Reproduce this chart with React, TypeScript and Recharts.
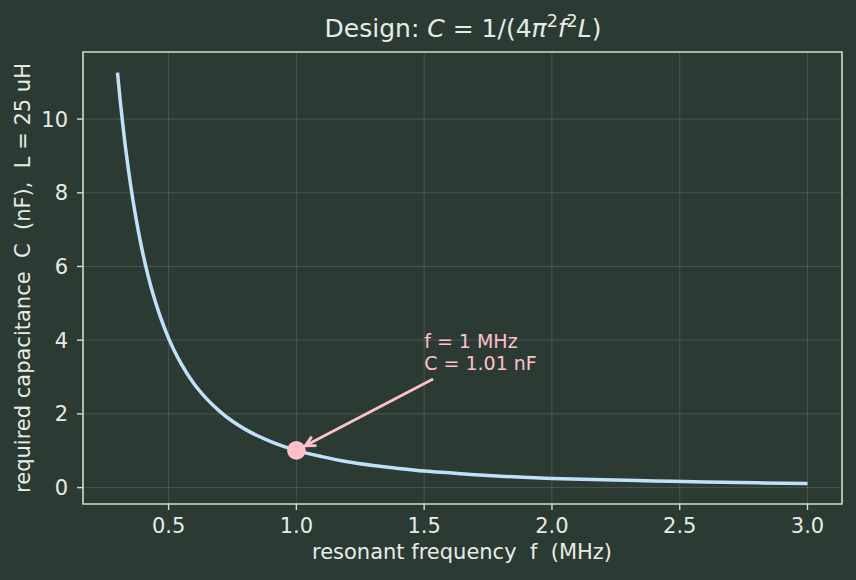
import React from "react";
import {
  LineChart,
  Line,
  XAxis,
  YAxis,
  CartesianGrid,
  ReferenceArea,
  ReferenceDot,
  ReferenceLine,
  Customized,
} from "recharts";

// resonant frequency f (MHz)
const freqMHz = [
  0.3, 0.31, 0.32, 0.33, 0.34, 0.35, 0.36, 0.38, 0.4, 0.42, 0.44, 0.46, 0.48,
  0.5, 0.55, 0.6, 0.65, 0.7, 0.75, 0.8, 0.85, 0.9, 0.95, 1.0, 1.1, 1.2, 1.3,
  1.4, 1.5, 1.6, 1.7, 1.8, 2.0, 2.2, 2.4, 2.6, 2.8, 3.0,
];
// required capacitance C (nF), L = 25 uH
const capNF = [
  11.26, 10.54, 9.9, 9.3, 8.77, 8.27, 7.82, 7.02, 6.33, 5.74, 5.23, 4.79, 4.4,
  4.05, 3.35, 2.81, 2.4, 2.07, 1.8, 1.58, 1.4, 1.25, 1.12, 1.01, 0.84, 0.7,
  0.6, 0.52, 0.45, 0.4, 0.35, 0.31, 0.25, 0.21, 0.18, 0.15, 0.13, 0.11,
];
const xTicks = [0.5, 1.0, 1.5, 2.0, 2.5, 3.0];
const yTicks = [0, 2, 4, 6, 8, 10];
const xDomain = [0.165, 3.135];
const yDomain = [-0.445, 11.82];
const markF = 1.0;
const markC = 1.01;
const noteF = 1.5;
const noteC = 3.2;
const arrowTail = { f: 1.535, c: 2.95 };

const data = freqMHz.map((f, i) => ({ f, c: capNF[i] }));

const BG = "#2b3a33";
const TEXT = "#e6ede6";
const SPINE = "#cfdccf";
const GRID = "rgba(255,255,255,0.14)";
const CURVE = "#bfe1fb";
const PINK = "#ffc0cb";
const FONT = "'DejaVu Sans', sans-serif";

const ArrowShape = (props: any) => {
  const { x1, y1, x2, y2 } = props;
  if ([x1, y1, x2, y2].some((v) => typeof v !== "number" || isNaN(v))) return null;
  const dx = x2 - x1;
  const dy = y2 - y1;
  const len = Math.sqrt(dx * dx + dy * dy);
  const ux = dx / len;
  const uy = dy / len;
  const shrink = 10;
  const ex = x2 - ux * shrink;
  const ey = y2 - uy * shrink;
  const hl = 10;
  const hw = 5;
  const bx = ex - ux * hl;
  const by = ey - uy * hl;
  const px = -uy;
  const py = ux;
  return (
    <g stroke={PINK} strokeWidth={2.8} fill="none" strokeLinejoin="miter" strokeLinecap="butt">
      <line x1={x1} y1={y1} x2={ex - ux * 1.5} y2={ey - uy * 1.5} />
      <polyline points={`${bx + px * hw},${by + py * hw} ${ex},${ey} ${bx - px * hw},${by - py * hw}`} />
    </g>
  );
};

const NoteShape = (props: any) => {
  const { cx, cy } = props;
  if (typeof cx !== "number" || typeof cy !== "number") return null;
  return (
    <text x={cx} fill={PINK} fontSize={19} fontFamily={FONT}>
      <tspan x={cx} y={cy - 21.5}>f = 1 MHz</tspan>
      <tspan x={cx} y={cy}>C = 1.01 nF</tspan>
    </text>
  );
};

const Texts = () => (
  <g fontFamily={FONT} fill={TEXT}>
    <text x={463} y={37} textAnchor="middle" fontSize={25} style={{ whiteSpace: "pre" }}>
      <tspan>Design: </tspan>
      <tspan fontStyle="italic">C</tspan>
      <tspan> = 1/(4</tspan>
      <tspan fontStyle="italic">π</tspan>
      <tspan fontSize={17.5} dy={-10}>2</tspan>
      <tspan fontStyle="italic" dy={10}>f</tspan>
      <tspan fontSize={17.5} dy={-10}>2</tspan>
      <tspan fontStyle="italic" dy={10}>L</tspan>
      <tspan>)</tspan>
    </text>
    <text x={462} y={559} textAnchor="middle" fontSize={21} style={{ whiteSpace: "pre" }}>
      resonant frequency  f  (MHz)
    </text>
    <text
      x={0}
      y={0}
      transform="translate(30,278) rotate(-90)"
      textAnchor="middle"
      fontSize={21}
      style={{ whiteSpace: "pre" }}
    >
      required capacitance  C  (nF),  L = 25 uH
    </text>
  </g>
);

export default function App() {
  return (
    <div style={{ position: "absolute", left: 0, top: 0, width: 856, height: 580, background: BG }}>
      <LineChart
        width={856}
        height={580}
        data={data}
        margin={{ top: 52, right: 14, bottom: 26, left: 33 }}
        style={{ background: BG }}
      >
        <CartesianGrid stroke={GRID} strokeWidth={1} verticalValues={xTicks} horizontalValues={yTicks} />
        <XAxis
          dataKey="f"
          type="number"
          domain={xDomain}
          ticks={xTicks}
          allowDataOverflow
          height={50}
          tickFormatter={(v: number) => v.toFixed(1)}
          tick={{ fill: TEXT, fontSize: 21, fontFamily: FONT }}
          tickSize={6}
          tickMargin={8}
          stroke={SPINE}
          tickLine={{ stroke: SPINE, strokeWidth: 1.4 }}
          axisLine={false}
        />
        <YAxis
          type="number"
          domain={yDomain}
          ticks={yTicks}
          allowDataOverflow
          width={50}
          tick={{ fill: TEXT, fontSize: 21, fontFamily: FONT }}
          tickSize={6}
          tickMargin={9}
          stroke={SPINE}
          tickLine={{ stroke: SPINE, strokeWidth: 1.4 }}
          axisLine={false}
        />
        <ReferenceArea
          x1={xDomain[0]}
          x2={xDomain[1]}
          y1={yDomain[0]}
          y2={yDomain[1]}
          fill="none"
          stroke={SPINE}
          strokeWidth={1.6}
          ifOverflow="visible"
        />
        <Line
          dataKey="c"
          type="monotone"
          stroke={CURVE}
          strokeWidth={3.5}
          dot={false}
          isAnimationActive={false}
        />
        <ReferenceDot x={markF} y={markC} r={9.3} fill={PINK} stroke="none" />
        <ReferenceLine
          segment={[
            { x: arrowTail.f, y: arrowTail.c },
            { x: markF, y: markC },
          ]}
          shape={ArrowShape}
        />
        <ReferenceDot x={noteF} y={noteC} r={0} shape={NoteShape} />
        <Customized component={Texts} />
      </LineChart>
    </div>
  );
}
